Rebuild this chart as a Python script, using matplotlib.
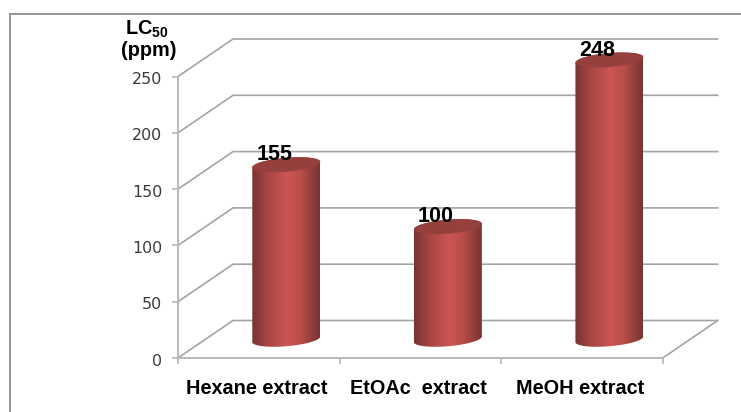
import numpy as np
import matplotlib
matplotlib.use("Agg")
import matplotlib.pyplot as plt
from matplotlib.colors import LinearSegmentedColormap
from matplotlib.lines import Line2D
from matplotlib.patches import Polygon
from matplotlib.transforms import ScaledTranslation

categories = ["Hexane extract", "EtOAc  extract", "MeOH extract"]
lc50_values = [155, 100, 248]
y_ticks = [0, 50, 100, 150, 200, 250]
x_boundaries = [0, 1, 2, 3]

W, H = 741, 412
# Front plane of the 3-D box, in pixels
LEFT, RIGHT, BOTTOM, TOP = 178, 662.7, 358, 76.5
# Depth of the box, in pixels
DEPTH_X, DEPTH_Y = 55, 37.5

plt.rcParams["font.family"] = ["Liberation Sans", "DejaVu Sans"]
plt.rcParams["mathtext.fontset"] = "custom"
plt.rcParams["mathtext.rm"] = "Liberation Sans:bold"
plt.rcParams["mathtext.default"] = "rm"

fig = plt.figure(figsize=(W / 100, H / 100), dpi=100, facecolor="white")
ax = fig.add_axes([LEFT / W, 1 - BOTTOM / H, (RIGHT - LEFT) / W, (BOTTOM - TOP) / H])
ax.set_xlim(0, 3)
ax.set_ylim(0, 250)
ax.patch.set_visible(False)

px_x = 3 / (RIGHT - LEFT)
px_y = 250 / (BOTTOM - TOP)
dx = DEPTH_X * px_x
dy = DEPTH_Y * px_y

GRID = "#a4a4a4"
AXIS = "#b8b8b8"

# Outer chart border, running off the right and bottom edges
for xs, ys in (([10, 10], [412, 14]), ([10, 741], [14, 14])):
    fig.add_artist(Line2D([x / W for x in xs], [1 - y / H for y in ys],
                          color="#8e8e8e", lw=1.3))

# Back-wall gridlines with their diagonals on the side wall
for t in y_ticks:
    ax.plot([0, dx, 3 + dx], [t, t + dy, t + dy], color=GRID, lw=1.2,
            clip_on=False, zorder=1, solid_joinstyle="miter")
# Right edge of the floor
ax.plot([3, 3 + dx], [0, dy], color=GRID, lw=1.2, clip_on=False, zorder=1)

for side in ("top", "right"):
    ax.spines[side].set_visible(False)
for side in ("left", "bottom"):
    ax.spines[side].set_color(AXIS)
    ax.spines[side].set_linewidth(1.4)
    ax.spines[side].set_zorder(2)

ax.set_yticks(y_ticks)
ax.tick_params(axis="y", length=4.5, width=1.2, color=AXIS, pad=7,
               labelsize=11.4, labelcolor="#3a3a3a")
# Value labels sit slightly below their tick marks
label_nudge = ScaledTranslation(0, -1.5 / 100, fig.dpi_scale_trans)
for tick in ax.yaxis.get_major_ticks():
    tick.label1.set_fontfamily("DejaVu Sans")
    tick.label1.set_transform(tick.label1.get_transform() + label_nudge)
ax.set_xticks(x_boundaries)
ax.set_xticklabels([])
ax.tick_params(axis="x", which="major", length=4.5, width=1.2, color=AXIS)
ax.set_xticks([i + 0.49 for i in range(3)], labels=categories, minor=True)
ax.tick_params(axis="x", which="minor", length=0, pad=15, labelsize=14.3)
for lbl in ax.get_xticklabels(minor=True):
    lbl.set_fontweight("bold")
    lbl.set_color("black")

# Cylinders: horizontal shading clipped to the body outline, darker top cap
shade = LinearSegmentedColormap.from_list(
    "cyl", [(0, "#763432"), (0.22, "#a54543"), (0.52, "#cd5553"),
            (0.72, "#b94d4a"), (1, "#763432")])
grad = np.linspace(0, 1, 256).reshape(1, -1)
t = np.linspace(0, 2 * np.pi, 121)
half_w = 34 * px_x
semi_b = 7 * px_y
tilt = 2.8 * px_y

for i, value in enumerate(lc50_values):
    cx = i + 0.5 + dx / 2
    base = dy / 2
    top = base + value
    ex = half_w * np.cos(t)
    ey = semi_b * np.sin(t) + tilt * np.cos(t)
    upper_half = t <= np.pi
    lower_half = t >= np.pi
    lower = np.column_stack([cx + ex[lower_half], base + ey[lower_half]])
    upper = np.column_stack([cx + ex[upper_half], top + ey[upper_half]])
    body = Polygon(np.vstack([upper, lower]), closed=True, transform=ax.transData,
                   fc="none", ec="none", zorder=3, clip_on=False)
    ax.add_patch(body)
    img = ax.imshow(grad, extent=[cx - half_w, cx + half_w, base - 10 * px_y, top + 10 * px_y],
                    cmap=shade, aspect="auto", zorder=3, interpolation="bilinear")
    # The body may rise past the top of the front plane, so only the outline clips it
    img.set_clip_box(fig.bbox)
    img.set_clip_path(body)
    ax.fill(cx + ex, top + ey, color="#95403d", zorder=4, lw=0, clip_on=False)
    ax.annotate(str(value), (cx, top), xytext=(-12, 10), textcoords="offset pixels",
                ha="center", va="center", fontsize=15.5, fontweight="bold",
                color="black", zorder=5, annotation_clip=False)

ax.set_xlim(0, 3)
ax.set_ylim(0, 250)

# Axis title above the value axis
fig.text(147 / W, 1 - 29 / H, "LC$_{50}$", ha="center", va="center",
         fontsize=14.3, fontweight="bold", color="black")
fig.text(149 / W, 1 - 50 / H, "(ppm)", ha="center", va="center",
         fontsize=14.3, fontweight="bold", color="black")

fig.savefig("out.png", dpi=100)
